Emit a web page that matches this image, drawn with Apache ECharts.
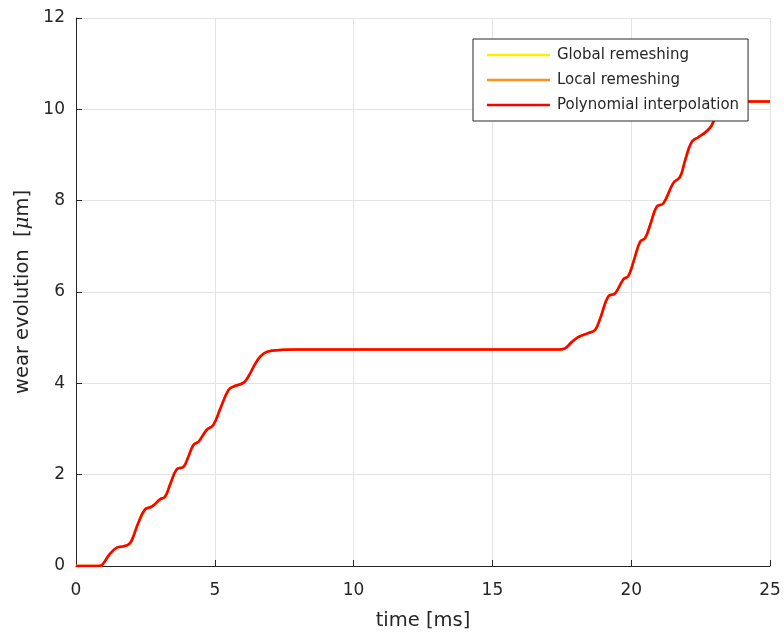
<!DOCTYPE html>
<html>
<head>
<meta charset="utf-8">
<script src="https://cdn.jsdelivr.net/npm/echarts@6/dist/echarts.min.js"></script>
<style>html,body{margin:0;padding:0;background:#fff;}#c{width:784px;height:636px;}</style>
</head>
<body>
<div id="c"></div>
<script>
const seriesNames = ['Global remeshing', 'Local remeshing', 'Polynomial interpolation'];
const seriesColors = ['#ffee00', '#f7931e', '#ff0000'];
const xTicks = [0, 5, 10, 15, 20, 25];
const yTicks = [0, 2, 4, 6, 8, 10, 12];
const timeMs = [0, 0.8, 0.95, 1.2, 1.46, 1.7, 1.89, 2.0, 2.25, 2.49, 2.73, 3.03, 3.21, 3.4, 3.63, 3.87, 4.05, 4.23, 4.41, 4.71, 4.95, 5.2, 5.49, 5.67, 6.03, 6.21, 6.45, 6.63, 6.87, 7.35, 8, 17.4, 17.6, 17.85, 18.09, 18.45, 18.7, 18.9, 19.17, 19.42, 19.72, 19.9, 20.1, 20.32, 20.5, 20.7, 20.92, 21.16, 21.52, 21.76, 21.95, 22.18, 22.42, 22.72, 22.9, 23.1, 23.3, 23.6, 25];
const wear = [0, 0, 0.03, 0.25, 0.40, 0.43, 0.47, 0.55, 0.95, 1.24, 1.30, 1.46, 1.52, 1.80, 2.12, 2.17, 2.40, 2.65, 2.72, 2.98, 3.09, 3.45, 3.85, 3.93, 4.01, 4.15, 4.42, 4.58, 4.69, 4.73, 4.74, 4.74, 4.76, 4.90, 5.01, 5.10, 5.17, 5.45, 5.90, 5.97, 6.28, 6.35, 6.70, 7.10, 7.18, 7.50, 7.87, 7.94, 8.39, 8.52, 8.90, 9.29, 9.39, 9.52, 9.65, 9.95, 10.15, 10.17, 10.17];

const pts = timeMs.map((t, i) => [t, wear[i]]);
const chart = echarts.init(document.getElementById('c'), null, {renderer: 'canvas'});
const font = 'DejaVu Sans, sans-serif';
const txt = '#262626';
chart.setOption({
  animation: false,
  backgroundColor: '#fff',
  grid: {left: 76, right: 14, top: 18, bottom: 70, containLabel: false},
  xAxis: {
    type: 'value', min: xTicks[0], max: xTicks[xTicks.length - 1], interval: 5,
    name: 'time [ms]', nameLocation: 'middle', nameGap: 45,
    nameTextStyle: {fontFamily: font, fontSize: 19.5, color: txt},
    axisLine: {onZero: false, lineStyle: {color: '#262626', width: 1}},
    axisTick: {inside: true, length: 6, lineStyle: {color: '#262626'}},
    axisLabel: {fontFamily: font, fontSize: 17, color: txt, margin: 16},
    splitLine: {show: true, lineStyle: {color: '#e3e3e3', width: 1}}
  },
  yAxis: {
    type: 'value', min: yTicks[0], max: yTicks[yTicks.length - 1], interval: 2,
    name: 'wear evolution  [{mu|μ}m]', nameLocation: 'middle', nameGap: 42,
    nameTextStyle: {fontFamily: font, fontSize: 19.5, color: txt, rich: {mu: {fontFamily: 'DejaVu Serif, serif', fontStyle: 'italic', fontSize: 19.5, color: txt}}},
    axisLine: {show: true, onZero: false, lineStyle: {color: '#262626', width: 1}},
    axisTick: {show: true, inside: true, length: 6, lineStyle: {color: '#262626'}},
    axisLabel: {fontFamily: font, fontSize: 17, color: txt, margin: 11},
    splitLine: {show: true, lineStyle: {color: '#e3e3e3', width: 1}}
  },
  legend: {
    orient: 'vertical', left: 473, top: 39, icon: 'rect', z: 20, zlevel: 1,
    backgroundColor: '#fff', borderColor: '#262626', borderWidth: 1,
    padding: [7, 9, 7, 14], itemGap: 7, itemWidth: 63, itemHeight: 2.5,
    textStyle: {fontFamily: font, fontSize: 15, color: txt, lineHeight: 18, padding: [0, 0, 0, 2]},
    data: seriesNames
  },
  series: seriesNames.map((n, i) => ({
    name: n, type: 'line', data: pts, symbol: 'none', smooth: 0.4,
    lineStyle: {color: seriesColors[i], width: 2.5}, itemStyle: {color: seriesColors[i]}, z: 2 + i
  }))
});
</script>
</body>
</html>
